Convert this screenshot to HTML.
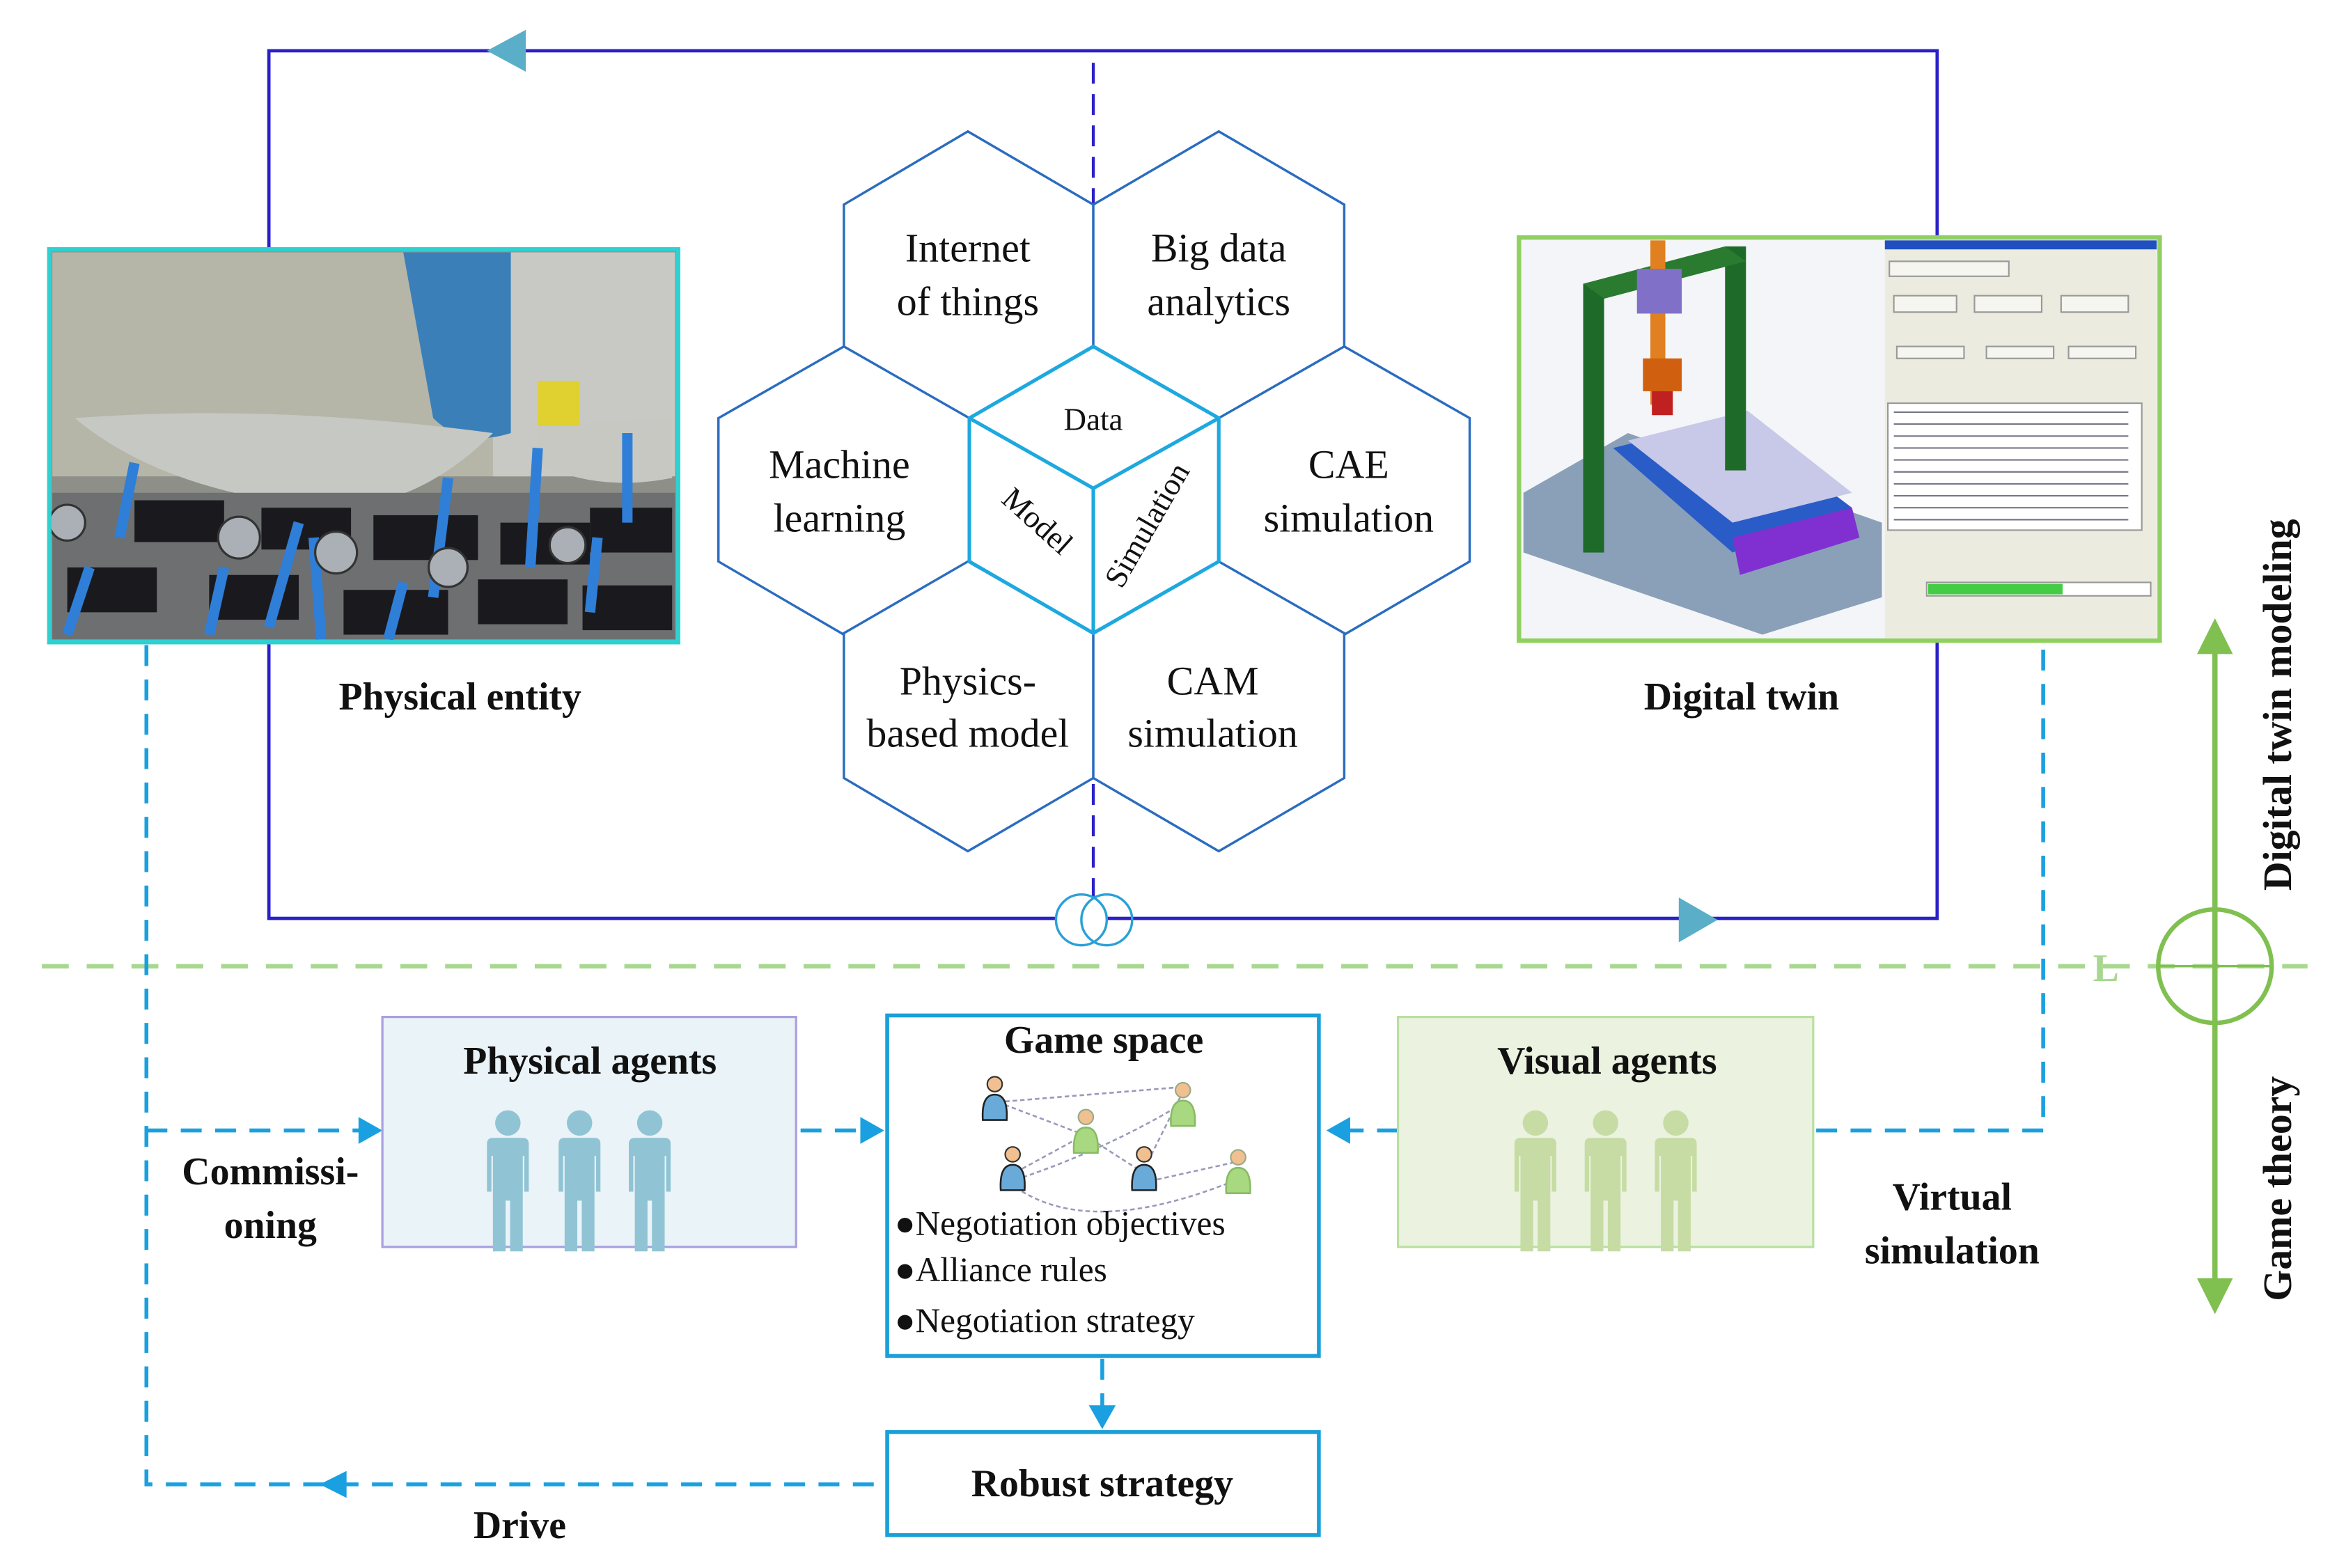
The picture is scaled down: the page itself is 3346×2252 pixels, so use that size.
<!DOCTYPE html>
<html><head><meta charset="utf-8"><style>html,body{margin:0;padding:0;background:#fff}svg{display:block}</style></head>
<body>
<svg width="3346" height="2252" viewBox="0 0 1560 1050" xmlns="http://www.w3.org/2000/svg" font-family="Liberation Serif, serif">
<defs>
<g id="p"><circle cx="0" cy="0" r="8.5"/><path d="M-14 14 Q-14 10 -10 10 L10 10 Q14 10 14 14 L14 46 L11 46 L11 22 L10 22 L10 50 L10 86 L1.5 86 L1.5 52 L-1.5 52 L-1.5 86 L-10 86 L-10 22 L-11 22 L-11 46 L-14 46 Z"/></g>
<g id="ub"><circle cx="0" cy="-10" r="5" fill="#f0c090" stroke="#333" stroke-width="1"/><path d="M-8 14 Q-9 -3 0 -3 Q9 -3 8 14 Z" fill="#6aaad8" stroke="#222" stroke-width="1.2"/></g>
<g id="ug"><circle cx="0" cy="-10" r="5" fill="#f0c090" stroke="#9a8" stroke-width="1"/><path d="M-8 14 Q-9 -3 0 -3 Q9 -3 8 14 Z" fill="#a8d880" stroke="#8b6" stroke-width="1.2"/></g>
</defs>

<!-- blue loop -->
<rect x="180" y="34" width="1117" height="581" fill="none" stroke="#2a20c8" stroke-width="2.2"/>
<polygon points="326,34 352,20 352,48" fill="#5aaec8"/>
<polygon points="1150,616 1124,601 1124,631" fill="#5aaec8"/>
<line x1="732" y1="42" x2="732" y2="603" stroke="#2a20c8" stroke-width="2" stroke-dasharray="14,7"/>
<circle cx="724" cy="616" r="17" fill="#fff" stroke="#2aa0d8" stroke-width="1.6"/>
<circle cx="741" cy="616" r="17" fill="none" stroke="#2aa0d8" stroke-width="1.6"/>

<!-- hexes -->
<g fill="#fff" stroke="#2a6cc0" stroke-width="1.6">
<polygon points="648,88 732,137 732,233 648,282 565,233 565,137"/>
<polygon points="816,88 900,137 900,233 816,282 732,233 732,137"/>
<polygon points="565,232 649,280 649,376 565,425 481,376 481,280"/>
<polygon points="900,232 984,280 984,376 900,425 816,376 816,280"/>
<polygon points="648,376 732,424 732,521 648,570 565,521 565,424"/>
<polygon points="816,376 900,424 900,521 816,570 732,521 732,424"/>
</g>
<g fill="#fff" stroke="#1ea8e0" stroke-width="2.4">
<polygon points="732,232 816,280 816,376 732,424 649,376 649,280"/>
<polyline points="649,280 732,327 816,280" fill="none"/>
<line x1="732" y1="327" x2="732" y2="424"/>
</g>
<g font-size="27" text-anchor="middle" fill="#111">
<text x="648" y="175">Internet</text><text x="648" y="211">of things</text>
<text x="816" y="175">Big data</text><text x="816" y="211">analytics</text>
<text x="562" y="320">Machine</text><text x="562" y="356">learning</text>
<text x="903" y="320">CAE</text><text x="903" y="356">simulation</text>
<text x="648" y="465">Physics-</text><text x="648" y="500">based model</text>
<text x="812" y="465">CAM</text><text x="812" y="500">simulation</text>
<text x="732" y="288" font-size="21">Data</text>
<text x="0" y="0" font-size="21" transform="translate(690,354) rotate(42)">Model</text>
<text x="0" y="0" font-size="21" transform="translate(774,355) rotate(-60)">Simulation</text>
</g>

<!-- physical entity photo -->
<g>
<rect x="33" y="167" width="421" height="263" fill="#8d8f88"/>
<rect x="35" y="169" width="330" height="150" fill="#b5b6a8"/>
<rect x="330" y="169" width="122" height="150" fill="#c8c9c4"/>
<path d="M270 169 L342 169 L342 290 Q310 300 290 280 Z" fill="#3b7fb8"/>
<path d="M50 280 Q180 270 330 290 Q280 340 220 340 Q110 330 50 280 Z" fill="#c6c8c4"/>
<path d="M360 285 L450 280 L450 320 Q400 330 360 310 Z" fill="#c8c8c2"/>
<rect x="360" y="255" width="28" height="30" fill="#e0d030"/>
<rect x="35" y="330" width="417" height="98" fill="#6d6f70"/>
<g fill="#1a1a1e">
<rect x="90" y="335" width="60" height="28"/><rect x="175" y="340" width="60" height="28"/><rect x="250" y="345" width="70" height="30"/><rect x="335" y="350" width="60" height="28"/><rect x="395" y="340" width="55" height="30"/>
<rect x="45" y="380" width="60" height="30"/><rect x="140" y="385" width="60" height="30"/><rect x="230" y="395" width="70" height="30"/><rect x="320" y="388" width="60" height="30"/><rect x="390" y="392" width="60" height="30"/>
</g>
<g stroke="#2f7fd8" stroke-width="7" fill="none">
<path d="M90 310 L80 360"/><path d="M200 350 L180 420"/><path d="M270 390 L260 428"/><path d="M300 320 L290 400"/><path d="M360 300 L355 380"/><path d="M420 290 L420 350"/><path d="M60 380 L45 425"/><path d="M150 380 L140 425"/><path d="M210 360 L215 428"/><path d="M400 360 L395 410"/>
</g>
<g fill="#aab0b5" stroke="#333" stroke-width="1.5"><circle cx="160" cy="360" r="14"/><circle cx="225" cy="370" r="14"/><circle cx="45" cy="350" r="12"/><circle cx="300" cy="380" r="13"/><circle cx="380" cy="365" r="12"/></g>
<rect x="33" y="167" width="421" height="263" fill="none" stroke="#30d0d0" stroke-width="3"/>
</g>

<!-- digital twin image -->
<g>
<rect x="1017" y="159" width="429" height="270" fill="#f4f5f8"/>
<rect x="1262" y="161" width="182" height="266" fill="#ecebe0"/>
<rect x="1262" y="161" width="182" height="6" fill="#2050c0"/>
<g stroke="#999" fill="#f6f6f0" stroke-width="1"><rect x="1265" y="175" width="80" height="10"/><rect x="1268" y="198" width="42" height="11"/><rect x="1322" y="198" width="45" height="11"/><rect x="1380" y="198" width="45" height="11"/>
<rect x="1270" y="232" width="45" height="8"/><rect x="1330" y="232" width="45" height="8"/><rect x="1385" y="232" width="45" height="8"/>
<rect x="1264" y="270" width="170" height="85" fill="#fff"/><rect x="1290" y="390" width="150" height="9" fill="#fff"/></g>
<g stroke="#778" stroke-width="1"><line x1="1268" y1="276" x2="1425" y2="276"/><line x1="1268" y1="284" x2="1425" y2="284"/><line x1="1268" y1="292" x2="1425" y2="292"/><line x1="1268" y1="300" x2="1425" y2="300"/><line x1="1268" y1="308" x2="1425" y2="308"/><line x1="1268" y1="316" x2="1425" y2="316"/><line x1="1268" y1="324" x2="1425" y2="324"/><line x1="1268" y1="332" x2="1425" y2="332"/><line x1="1268" y1="340" x2="1425" y2="340"/><line x1="1268" y1="348" x2="1425" y2="348"/></g>
<rect x="1291" y="391" width="90" height="7" fill="#4c4"/>
<path d="M1020 330 L1090 290 L1260 350 L1260 400 L1180 425 L1020 370 Z" fill="#8aa0b8"/>
<path d="M1080 300 L1160 280 L1240 340 L1160 370 Z" fill="#2a5cc8"/>
<path d="M1090 295 L1170 275 L1240 330 L1160 350 Z" fill="#c8c8e8"/>
<path d="M1160 360 L1240 340 L1245 360 L1165 385 Z" fill="#8030d0"/>
<rect x="1060" y="190" width="14" height="180" fill="#1e6a28"/>
<rect x="1155" y="165" width="14" height="150" fill="#1e6a28"/>
<path d="M1060 190 L1155 165 L1169 175 L1074 200 Z" fill="#2a7a30"/>
<rect x="1105" y="161" width="10" height="110" fill="#e08020"/>
<rect x="1096" y="180" width="30" height="30" fill="#8070c8"/>
<rect x="1100" y="240" width="26" height="22" fill="#d06010"/>
<rect x="1106" y="262" width="14" height="16" fill="#c02020"/>
<rect x="1017" y="159" width="429" height="270" fill="none" stroke="#90d060" stroke-width="3"/>
</g>

<g font-size="26" font-weight="bold" text-anchor="middle" fill="#111">
<text x="308" y="475">Physical entity</text>
<text x="1166" y="475">Digital twin</text>
</g>

<!-- right axis -->
<line x1="28" y1="647" x2="1545" y2="647" stroke="#a8d890" stroke-width="3" stroke-dasharray="18,12"/>
<text x="1410" y="657" font-size="26" font-weight="bold" fill="#a8d890" text-anchor="middle">L</text>
<line x1="1483" y1="430" x2="1483" y2="865" stroke="#80c050" stroke-width="3.5"/>
<polygon points="1483,414 1471,438 1495,438" fill="#80c050"/>
<polygon points="1483,880 1471,856 1495,856" fill="#80c050"/>
<circle cx="1483" cy="647" r="38" fill="none" stroke="#80c050" stroke-width="3"/>
<line x1="1445" y1="647" x2="1521" y2="647" stroke="#80c050" stroke-width="1.6"/>
<text transform="translate(1534,472) rotate(-90)" font-size="27" font-weight="bold" text-anchor="middle" fill="#111">Digital twin modeling</text>
<text transform="translate(1534,796) rotate(-90)" font-size="27" font-weight="bold" text-anchor="middle" fill="#111">Game theory</text>

<!-- cyan dashed connectors -->
<g stroke="#1aa0e0" stroke-width="2.6" fill="none" stroke-dasharray="14,9">
<path d="M98 432 L98 994 L592 994"/>
<line x1="98" y1="757" x2="242" y2="757"/>
<line x1="536" y1="757" x2="578" y2="757"/>
<line x1="936" y1="757" x2="900" y2="757"/>
<path d="M1216 757 L1368 757 L1368 432"/>
<line x1="738" y1="910" x2="738" y2="944"/>
</g>
<g fill="#1aa0e0">
<polygon points="256,757 240,748 240,766"/>
<polygon points="592,757 576,748 576,766"/>
<polygon points="888,757 904,748 904,766"/>
<polygon points="214,994 232,985 232,1003"/>
<polygon points="738,957 729,941 747,941"/>
</g>

<!-- boxes -->
<rect x="256" y="681" width="277" height="154" fill="#eaf3f7" stroke="#a8a0e0" stroke-width="1.5"/>
<rect x="936" y="681" width="278" height="154" fill="#ebf2e0" stroke="#b8e0a0" stroke-width="1.5"/>
<rect x="594" y="680" width="289" height="228" fill="#fff" stroke="#1a9fd8" stroke-width="2.6"/>
<rect x="594" y="959" width="289" height="69" fill="#fff" stroke="#1a9fd8" stroke-width="2.6"/>
<g font-size="26" font-weight="bold" text-anchor="middle" fill="#111">
<text x="395" y="719">Physical agents</text>
<text x="1076" y="719">Visual agents</text>
<text x="739" y="705">Game space</text>
<text x="738" y="1002">Robust strategy</text>
<text x="181" y="793">Commissi-</text><text x="181" y="829">oning</text>
<text x="1307" y="810">Virtual</text><text x="1307" y="846">simulation</text>
<text x="348" y="1030">Drive</text>
</g>
<g fill="#90c4d4"><use href="#p" x="340" y="752"/><use href="#p" x="388" y="752"/><use href="#p" x="435" y="752"/></g>
<g fill="#c6dca4"><use href="#p" x="1028" y="752"/><use href="#p" x="1075" y="752"/><use href="#p" x="1122" y="752"/></g>

<!-- game network -->
<g stroke="#99b" stroke-width="1.2" fill="none" stroke-dasharray="3,2">
<line x1="668" y1="738" x2="790" y2="728"/><line x1="668" y1="738" x2="726" y2="760"/><path d="M680 790 Q740 770 790 740"/><line x1="680" y1="785" x2="726" y2="760"/><line x1="726" y1="760" x2="765" y2="785"/><line x1="765" y1="792" x2="828" y2="778"/><path d="M680 795 Q730 830 828 790"/><line x1="790" y1="735" x2="765" y2="785"/>
</g>
<use href="#ub" x="666" y="736"/><use href="#ug" x="792" y="740"/><use href="#ug" x="727" y="758"/><use href="#ub" x="678" y="783"/><use href="#ub" x="766" y="783"/><use href="#ug" x="829" y="785"/>
<g font-size="23" fill="#111">
<text x="599" y="827">●Negotiation objectives</text>
<text x="599" y="858">●Alliance rules</text>
<text x="599" y="892">●Negotiation strategy</text>
</g>
</svg>
</body></html>
